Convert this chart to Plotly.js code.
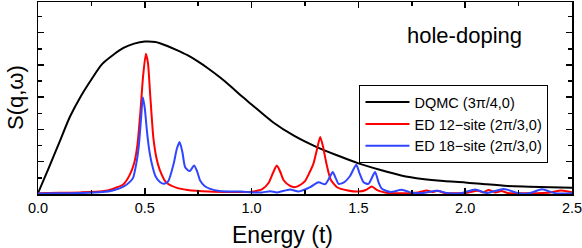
<!DOCTYPE html>
<html>
<head>
<meta charset="utf-8">
<script src="https://cdn.plot.ly/plotly-3.0.1.min.js"></script>
<style>html,body{margin:0;padding:0;background:#fff;}#chart{width:582px;height:248px;}</style>
</head>
<body>
<div id="chart"></div>
<script>
// DQMC (3π/4,0)
const dqmcE = [0, 0.05, 0.1, 0.15, 0.2, 0.25, 0.3, 0.35, 0.4, 0.45, 0.5, 0.55, 0.6, 0.65, 0.7, 0.75, 0.8, 0.85, 0.9, 0.95, 1.0, 1.1, 1.2, 1.3, 1.4, 1.5, 1.6, 1.7, 1.8, 1.9, 2.0, 2.1, 2.2, 2.3, 2.4, 2.5];
const dqmcS = [0.05, 1.6, 3.2, 4.8, 6.05, 7.1, 8.05, 8.6, 9.05, 9.32, 9.45, 9.42, 9.2, 8.92, 8.6, 8.2, 7.75, 7.25, 6.7, 6.1, 5.55, 4.45, 3.6, 2.94, 2.4, 1.9, 1.5, 1.15, 0.93, 0.8, 0.72, 0.6, 0.5, 0.45, 0.42, 0.39];

// ED 12-site (2π/3,0)
const ed12E = [0, 0.1, 0.2, 0.3, 0.35, 0.4, 0.43, 0.45, 0.465, 0.48, 0.492, 0.505, 0.515, 0.525, 0.54, 0.555, 0.57, 0.6, 0.65, 0.7, 0.8, 0.9, 1.0, 1.05, 1.08, 1.1, 1.118, 1.135, 1.15, 1.18, 1.2, 1.22, 1.25, 1.27, 1.29, 1.305, 1.321, 1.335, 1.35, 1.37, 1.4, 1.45, 1.5, 1.535, 1.563, 1.59, 1.63, 1.7, 1.78, 1.82, 1.845, 1.87, 1.9, 1.95, 2.0, 2.06, 2.085, 2.11, 2.14, 2.17, 2.2, 2.3, 2.4, 2.45, 2.5];
const ed12S = [0.05, 0.07, 0.1, 0.17, 0.32, 0.6, 1.2, 1.9, 3.0, 5.2, 7.3, 8.7, 8.1, 6.2, 3.5, 2.2, 1.5, 0.72, 0.38, 0.25, 0.15, 0.12, 0.14, 0.3, 0.7, 1.3, 1.77, 1.35, 0.85, 0.5, 0.42, 0.5, 0.8, 1.3, 1.9, 2.7, 3.53, 2.9, 1.9, 0.9, 0.42, 0.22, 0.15, 0.25, 0.47, 0.22, 0.08, 0.05, 0.1, 0.22, 0.12, 0.2, 0.08, 0.04, 0.06, 0.2, 0.1, 0.25, 0.1, 0.18, 0.06, 0.05, 0.1, 0.22, 0.1];

// ED 18-site (2π/3,0)
const ed18E = [0, 0.1, 0.2, 0.3, 0.35, 0.4, 0.43, 0.445, 0.46, 0.472, 0.482, 0.491, 0.5, 0.51, 0.52, 0.533, 0.55, 0.572, 0.59, 0.61, 0.635, 0.65, 0.663, 0.676, 0.689, 0.71, 0.731, 0.745, 0.759, 0.78, 0.806, 0.85, 0.9, 0.95, 1.0, 1.05, 1.087, 1.12, 1.18, 1.22, 1.274, 1.313, 1.344, 1.36, 1.38, 1.395, 1.407, 1.43, 1.46, 1.49, 1.505, 1.524, 1.547, 1.578, 1.595, 1.61, 1.65, 1.703, 1.75, 1.8, 1.867, 1.92, 1.98, 2.047, 2.1, 2.18, 2.25, 2.3, 2.36, 2.42, 2.5];
const ed18S = [0.03, 0.04, 0.06, 0.12, 0.22, 0.45, 0.75, 1.0, 1.87, 3.0, 4.6, 6.0, 5.3, 3.9, 2.8, 1.87, 1.1, 0.73, 0.63, 0.8, 1.87, 2.8, 3.22, 2.6, 1.66, 1.42, 1.77, 1.4, 0.84, 0.5, 0.32, 0.18, 0.15, 0.15, 0.1, 0.1, 0.17, 0.1, 0.28, 0.15, 0.42, 0.73, 0.6, 0.9, 1.36, 0.95, 0.63, 0.7, 1.1, 1.81, 1.3, 0.73, 0.63, 1.36, 0.7, 0.32, 0.12, 0.26, 0.08, 0.06, 0.2, 0.05, 0.05, 0.28, 0.06, 0.31, 0.05, 0.04, 0.3, 0.05, 0.05];

const xTicks = [0, 0.5, 1.0, 1.5, 2.0, 2.5];
const xTickText = ['0.0', '0.5', '1.0', '1.5', '2.0', '2.5'];

const font = 'Arial, "Liberation Sans", Helvetica, sans-serif';

const traces = [
  {x: dqmcE, y: dqmcS, name: 'DQMC (3\u03c0/4,0)', mode: 'lines', line: {color: '#000000', width: 2, shape: 'spline', smoothing: 0.8}},
  {x: ed12E, y: ed12S, name: 'ED 12\u2212site (2\u03c0/3,0)', mode: 'lines', line: {color: '#ff0000', width: 2, shape: 'spline', smoothing: 0.6}},
  {x: ed18E, y: ed18S, name: 'ED 18\u2212site (2\u03c0/3,0)', mode: 'lines', line: {color: '#2f45ff', width: 2, shape: 'spline', smoothing: 0.6}}
];

const layout = {
  width: 582, height: 248,
  margin: {l: 38, r: 10, t: 2, b: 54},
  paper_bgcolor: '#ffffff', plot_bgcolor: '#ffffff',
  font: {family: font, color: '#000000', size: 15},
  showlegend: true,
  legend: {
    x: 0.602, y: 0.567, xanchor: 'left', yanchor: 'top',
    bgcolor: '#ffffff', bordercolor: '#000000', borderwidth: 1,
    font: {family: font, size: 14.5, color: '#000000'},
    itemwidth: 44,
    tracegroupgap: 0
  },
  xaxis: {
    range: [0, 2.5], tickmode: 'array', tickvals: xTicks, ticktext: xTickText,
    ticks: 'inside', ticklen: 6, tickwidth: 1.5, tickcolor: '#000',
    minor: {dtick: 0.25, ticks: 'inside', ticklen: 4, tickwidth: 1.5, tickcolor: '#000'},
    showline: true, linecolor: '#000', linewidth: 1.5, mirror: 'ticks',
    showgrid: false, zeroline: false,
    ticklabeloverflow: 'allow',
    tickfont: {family: font, size: 14.5}
  },
  yaxis: {
    range: [0, 11.9], dtick: 2, tick0: 0,
    ticks: 'inside', ticklen: 6, tickwidth: 1.5, tickcolor: '#000',
    minor: {dtick: 1, ticks: 'inside', ticklen: 4, tickwidth: 1.5, tickcolor: '#000'},
    showline: true, linecolor: '#000', linewidth: 1.5, mirror: 'ticks',
    showgrid: false, zeroline: false, showticklabels: false
  },
  annotations: [
    {text: 'hole-doping', xref: 'paper', yref: 'paper', x: (464 - 38) / 534, y: (194 - 35) / 192, xanchor: 'center', yanchor: 'middle', showarrow: false, font: {family: font, size: 22, color: '#000'}},
    {text: 'Energy (t)', xref: 'paper', yref: 'paper', x: (282 - 38) / 534, y: -(235 - 194) / 192, xanchor: 'center', yanchor: 'middle', showarrow: false, font: {family: font, size: 23, color: '#000'}},
    {text: 'S(q,\u03c9)', xref: 'paper', yref: 'paper', x: -(38 - 15) / 534, y: 0.5, xanchor: 'center', yanchor: 'middle', textangle: -90, showarrow: false, font: {family: font, size: 22, color: '#000'}}
  ]
};

Plotly.newPlot('chart', traces, layout, {displayModeBar: false, staticPlot: true});
</script>
</body>
</html>
